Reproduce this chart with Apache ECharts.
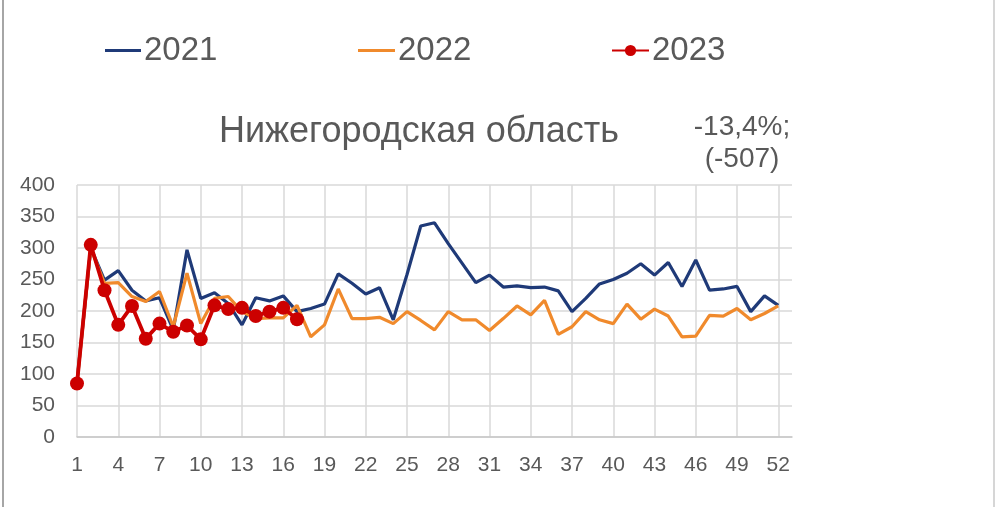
<!DOCTYPE html>
<html>
<head>
<meta charset="utf-8">
<script src="https://cdn.jsdelivr.net/npm/echarts@6/dist/echarts.min.js"></script>
<style>
html,body{margin:0;padding:0;background:#fff;}
#chart{width:1000px;height:507px;}
</style>
</head>
<body>
<div id="chart"></div>
<script>
const weeks = Array.from({length: 53}, (_, i) => String(i + 1));
const s2021 = [88,300,249,264,233,216,221,170,297,220,229,212,178,221,216,224,199,204,211,259,244,227,237,186,258,335,340,307,276,245,257,238,240,237,238,232,199,220,243,250,260,275,257,277,239,281,233,235,239,199,224,209];
const s2022 = [86,300,244,245,223,215,231,175,260,180,220,223,199,188,189,189,209,159,178,235,188,188,190,180,199,185,170,199,186,186,169,188,208,194,217,163,175,199,186,180,211,187,203,192,159,160,193,192,204,186,196,208];
const s2023 = [85,305,233,178,208,156,180,167,177,155,209,203,205,192,199,205,187];
const title = 'Нижегородская область';
const note = '-13,4%;\n(-507)';

const font = '"Liberation Sans", Arial, sans-serif';
const gray = '#595959';
const legText = {fontFamily: font, fontSize: 33, color: gray, padding: [0, 0, 0, -2]};
const chart = echarts.init(document.getElementById('chart'));
chart.setOption({
  animation: false,
  backgroundColor: '#fff',
  title: [
    {text: title, left: 414, top: 109, textAlign: 'center',
     textStyle: {fontFamily: font, fontSize: 36, fontWeight: 'normal', color: gray}},
    {text: note, left: 737, top: 106, textAlign: 'center',
     textStyle: {fontFamily: font, fontSize: 28, fontWeight: 'normal', color: gray, lineHeight: 32}}
  ],
  legend: [
    {data: [{name: '2021', icon: 'rect'}], left: 100, top: 29, itemWidth: 36, itemHeight: 3, itemGap: 0, textStyle: legText},
    {data: [{name: '2022', icon: 'rect'}], left: 353, top: 29, itemWidth: 37, itemHeight: 3, itemGap: 0, textStyle: legText},
    {data: ['2023'], left: 606, top: 29, itemWidth: 37, itemHeight: 14, itemGap: 0, textStyle: legText}
  ],
  grid: {left: 77, right: 208, top: 185, bottom: 70, containLabel: false},
  xAxis: {
    type: 'category', data: weeks, boundaryGap: false,
    axisLine: {lineStyle: {color: '#c8c8c8', width: 1.5}},
    axisTick: {show: false},
    axisLabel: {interval: 2, color: gray, fontFamily: font, fontSize: 21, margin: 18},
    splitLine: {show: true, interval: 2, lineStyle: {color: '#d9d9d9', width: 1.5}}
  },
  yAxis: {
    type: 'value', min: 0, max: 400, interval: 50,
    axisLine: {show: false}, axisTick: {show: false},
    axisLabel: {color: gray, fontFamily: font, fontSize: 21, margin: 22},
    splitLine: {lineStyle: {color: '#d9d9d9', width: 1.5}}
  },
  series: [
    {name: '2021', type: 'line', data: s2021, symbol: 'none', color: '#1f3a78',
     lineStyle: {width: 3.2, color: '#1f3a78'}, z: 2},
    {name: '2022', type: 'line', data: s2022, symbol: 'none', color: '#f08a2c',
     lineStyle: {width: 3.2, color: '#f08a2c'}, z: 3},
    {name: '2023', type: 'line', data: s2023, symbol: 'circle', symbolSize: 14, showAllSymbol: true, color: '#cc0000',
     itemStyle: {color: '#cc0000'}, lineStyle: {width: 3.8, color: '#cc0000'}, z: 4}
  ],
  graphic: [
    {type: 'line', shape: {x1: 3, y1: 0, x2: 3, y2: 507}, style: {stroke: '#a6a6a6', lineWidth: 2}},
    {type: 'line', shape: {x1: 994, y1: 0, x2: 994, y2: 507}, style: {stroke: '#c8c8c8', lineWidth: 1.5}}
  ]
});
</script>
</body>
</html>
